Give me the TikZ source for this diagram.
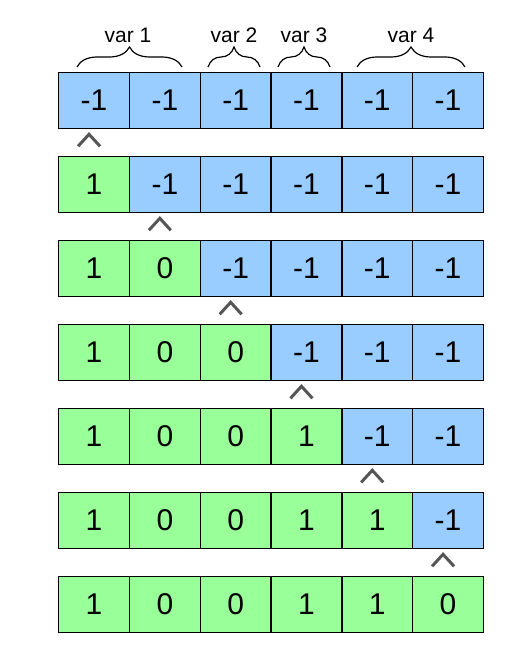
\documentclass[tikz,border=0pt]{standalone}
\usepackage{fontspec}
\setmainfont{Liberation Sans}
\usetikzlibrary{decorations.pathreplacing}
\definecolor{cellblue}{HTML}{99CCFF}
\definecolor{cellgreen}{HTML}{99FF99}
\definecolor{caretgray}{HTML}{555555}
\begin{document}
\begin{tikzpicture}[x=1pt,y=1pt,
  cell/.style={draw=black, line width=1.3pt, minimum width=70.8pt, minimum height=56pt,
    inner sep=0pt, font=\fontsize{30}{30}\selectfont, anchor=north west},
  unsetcell/.style={cell, fill=cellblue},
  setcell/.style={cell, fill=cellgreen},
  caret/.style={draw=caretgray, line width=3pt},
  varbrace/.style={decorate, decoration={brace, amplitude=20pt}, line width=1.2pt},
  varlabel/.style={font=\fontsize{21}{21}\selectfont, anchor=base}]
\useasboundingbox (0,0) rectangle (526,-666);
\foreach \r in {0,...,6} {
  \foreach \v [count=\i from 0] in {1,0,0,1,1,0} {
    \ifnum\i<\r \def\st{setcell}\def\tx{\v}\else \def\st{unsetcell}\def\tx{-1}\fi
    \node[\st] (c\r-\i) at ({58+70.8*\i},{-72-84*\r}) {\tx};
  }
}
\foreach \r in {0,...,5} {
  \draw[caret] ([shift={(-16,-17)}]c\r-\r.south) -- ([shift={(-5,-5)}]c\r-\r.south) -- ([shift={(6,-17)}]c\r-\r.south);
}
\draw[varbrace] (77,-67) -- (182,-67);
\draw[varbrace] (208,-67) -- (260,-67);
\draw[varbrace] (278,-67) -- (330,-67);
\draw[varbrace] (357,-67) -- (465,-67);
\node[varlabel] (v1) at (128,-43) {var 1};
\node[varlabel] (v2) at (234,-43) {var 2};
\node[varlabel] (v3) at (304,-43) {var 3};
\node[varlabel] (v4) at (411,-43) {var 4};
\end{tikzpicture}
\end{document}
